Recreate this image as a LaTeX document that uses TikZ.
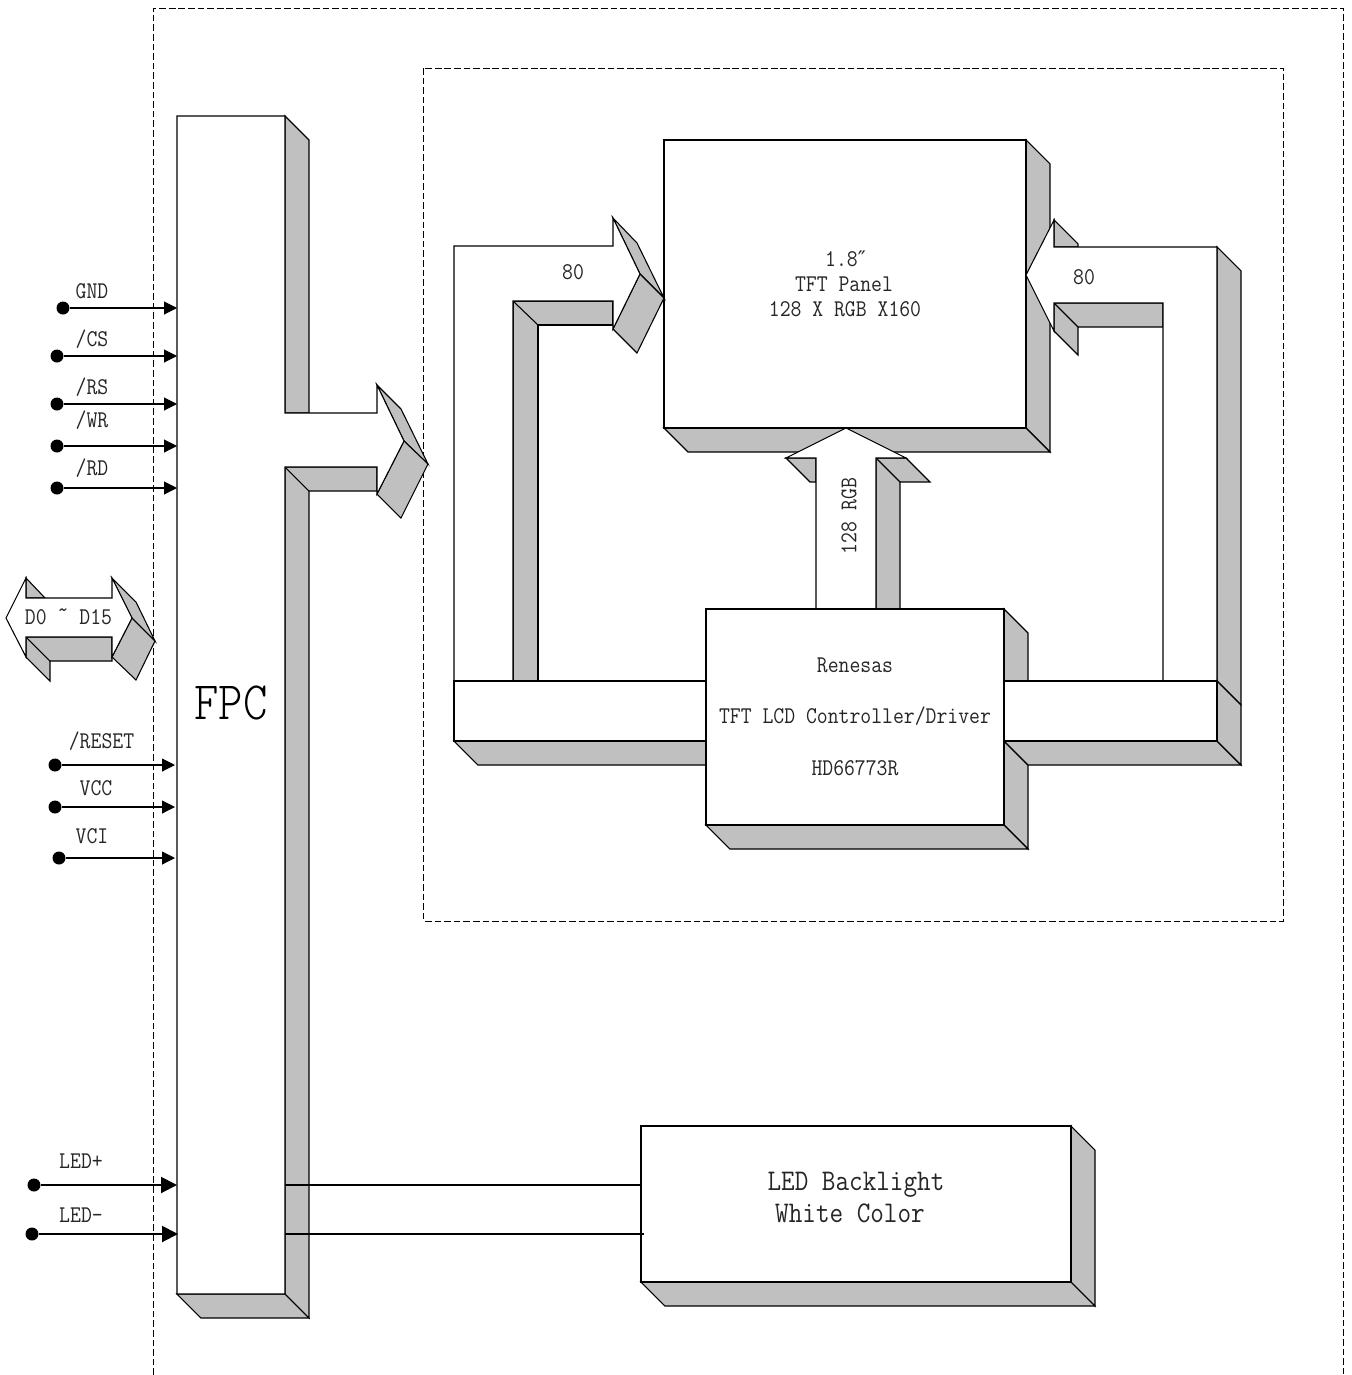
\documentclass[tikz,border=0pt]{standalone}
\usepackage{fontspec}
\usetikzlibrary{arrows.meta}
\newfontfamily\simf[FakeStretch=0.88]{Latin Modern Mono}
\newfontfamily\simbig[FakeStretch=0.86]{Latin Modern Mono Light}
\newfontfamily\primef{DejaVu Sans}
\definecolor{facegray}{HTML}{C0C0C0}
\tikzset{
  face/.style={draw=black,fill=facegray,line width=.8pt,line join=miter},
  front/.style={draw=black,fill=white,line width=.8pt,line join=miter},
  edge3d/.style={draw=black,line width=.8pt},
  bound/.style={draw=black,line width=.7pt,dash pattern=on 5pt off 2.2pt},
  lbl/.style={font=\simf\fontsize{18}{20}\selectfont,inner sep=0pt,text=black!85},
  lblbig/.style={font=\simf\fontsize{22.5}{25}\selectfont,inner sep=0pt,text=black!85},
  lblfpc/.style={font=\simbig\fontsize{40.5}{44}\selectfont,inner sep=0pt},
  pin/.style={circle,fill=black,draw=none,inner sep=0pt,minimum size=9.75pt},
  sig/.style={draw=black,line width=.8pt,-{Triangle[length=9.75pt,width=9.75pt]}},
  power/.style={draw=black,line width=1.5pt,-{Triangle[length=12pt,width=12pt]}},
  wire/.style={draw=black,line width=1.5pt}
}
\begin{document}
\begin{tikzpicture}[x=0.75pt,y=-0.75pt]
\useasboundingbox (0,0) rectangle (1352,1375);
% dashed boundaries
\draw[bound] (153.5,1375) -- (153.5,8) -- (1343.5,8) -- (1343.5,1375);
\draw[bound] (423.5,68) rectangle (1283.5,921);

% TFT panel
\path[face] (1026,140) -- (1050,164) -- (1050,452) -- (1026,428) -- cycle;
\path[face] (664,428) -- (1026,428) -- (1050,452) -- (688,452) -- cycle;
\path[front] (664,140) rectangle (1026,428);

% left 80 bus
\path[face] (513,301) -- (613,301) -- (613,325) -- (538,325) -- (538,681) -- (513,681) -- cycle;
\draw[edge3d] (513,301) -- (538,325);
\path[face] (613,218) -- (637,243) -- (664,298) -- (640,274) -- cycle;
\path[face] (640,274) -- (664,298) -- (637,353) -- (613,329) -- cycle;
\path[front] (454,681) -- (454,246) -- (613,246) -- (613,218) -- (640,274) -- (613,329) -- (613,301) -- (513,301) -- (513,681);

% right 80 bus
\path[face] (1217,247) -- (1241,271) -- (1241,705) -- (1217,681) -- cycle;
\path[face] (1054,220) -- (1078,244) -- (1078,247) -- (1054,247) -- cycle;
\path[face] (1054,303) -- (1163,303) -- (1163,327) -- (1078,327) -- (1078,355) -- (1054,331) -- cycle;
\draw[edge3d] (1054,303) -- (1078,327);
\path[front] (1217,681) -- (1217,247) -- (1054,247) -- (1054,220) -- (1026,275) -- (1054,331) -- (1054,303) -- (1163,303) -- (1163,681);

% centre 128 RGB bus
\path[face] (786,458) -- (816,458) -- (816,482) -- (810,482) -- cycle;
\path[face] (876,458) -- (906,458) -- (930,482) -- (900,482) -- (900,609) -- (876,609) -- cycle;
\draw[edge3d] (876,458) -- (900,482);
\path[front] (816,609) -- (816,458) -- (786,458) -- (846,428) -- (906,458) -- (876,458) -- (876,609);

% side blocks
\path[face] (454,741) -- (706,741) -- (706,765) -- (478,765) -- cycle;
\path[front] (454,681) rectangle (706,741);
\path[face] (1004,609) -- (1028,633) -- (1028,681) -- (1004,681) -- cycle;
\path[face] (1004,741) -- (1028,765) -- (1028,849) -- (1004,825) -- cycle;
\path[face] (1004,741) -- (1217,741) -- (1241,765) -- (1028,765) -- cycle;
\path[face] (1217,681) -- (1241,705) -- (1241,765) -- (1217,741) -- cycle;
\path[front] (1004,681) rectangle (1217,741);

% driver
\path[face] (706,825) -- (1004,825) -- (1028,849) -- (730,849) -- cycle;
\path[front] (706,609) rectangle (1004,825);

% FPC with its output arrow
\path[face] (285,116) -- (309,140) -- (309,413) -- (285,413) -- cycle;
\path[face] (285,467) -- (377,467) -- (377,491) -- (309,491) -- (309,1318) -- (285,1294) -- cycle;
\draw[edge3d] (285,467) -- (309,491);
\path[face] (377,385) -- (401,409) -- (428,464) -- (404,441) -- cycle;
\path[face] (404,441) -- (428,464) -- (401,518) -- (377,494) -- cycle;
\path[face] (177,1294) -- (285,1294) -- (309,1318) -- (201,1318) -- cycle;
\path[front] (177,116) -- (285,116) -- (285,413) -- (377,413) -- (377,385) -- (404,441) -- (377,494) -- (377,467) -- (285,467) -- (285,1294) -- (177,1294) -- cycle;
\node[lblfpc] (fpc) at (231,703) {FPC};
\coordinate (fpcL) at (177,0);
\coordinate (fpcLb) at (175,0);
\coordinate (fpcLc) at (178,0);
\coordinate (fpcR) at (285,0);

% D0~D15 double arrow
\path[face] (26,578) -- (45,598) -- (26,598) -- cycle;
\path[face] (26,637) -- (112,637) -- (112,661) -- (50,661) -- (50,681) -- (26,657) -- cycle;
\draw[edge3d] (26,637) -- (50,661);
\path[face] (112,578) -- (136,602) -- (155,641) -- (132,618) -- cycle;
\path[face] (132,618) -- (155,641) -- (136,680) -- (112,657) -- cycle;
\path[front] (6,618) -- (26,578) -- (26,598) -- (112,598) -- (112,578) -- (132,618) -- (112,657) -- (112,637) -- (26,637) -- (26,657) -- cycle;
\node[lbl] (dbus) at (68.5,617) {D0 \raisebox{5pt}{\char`\~} D15};

% pins
\node[pin] (gnd) at (63,308) {};
\node[pin] (cs) at (57,356) {};
\node[pin] (rs) at (57,404) {};
\node[pin] (wr) at (57,446) {};
\node[pin] (rd) at (57,488) {};
\node[pin] (reset) at (55,765) {};
\node[pin] (vcc) at (55,807) {};
\node[pin] (vci) at (59,858) {};
\node[pin] (ledp) at (34,1185) {};
\node[pin] (ledn) at (32,1234) {};
\draw[sig] (gnd) -- (gnd -| fpcL);
\draw[sig] (cs) -- (cs -| fpcL);
\draw[sig] (rs) -- (rs -| fpcL);
\draw[sig] (wr) -- (wr -| fpcL);
\draw[sig] (rd) -- (rd -| fpcL);
\draw[sig] (reset) -- (reset -| fpcLb);
\draw[sig] (vcc) -- (vcc -| fpcLb);
\draw[sig] (vci) -- (vci -| fpcLb);
\draw[power] (ledp) -- (ledp -| fpcL);
\draw[power] (ledn) -- (ledn -| fpcLc);

\node[lbl] (tgnd) at (92,291) {GND};
\node[lbl] (tcs) at (92,339) {/CS};
\node[lbl] (trs) at (92,387) {/RS};
\node[lbl] (twr) at (92,420) {/WR};
\node[lbl] (trd) at (92,468) {/RD};
\node[lbl] (treset) at (101.5,741) {/RESET};
\node[lbl] (tvcc) at (96,788) {VCC};
\node[lbl] (tvci) at (92,836) {VCI};
\node[lbl] (tledp) at (81,1161) {LED+};
\node[lbl] (tledn) at (81,1215) {LED-};

% LED backlight
\path[face] (1071,1126) -- (1095,1150) -- (1095,1306) -- (1071,1282) -- cycle;
\path[face] (641,1282) -- (1071,1282) -- (1095,1306) -- (665,1306) -- cycle;
\node[draw=black,fill=white,line width=.8pt,inner sep=0pt,minimum width=322.5pt,minimum height=117pt] (led) at (856,1204) {};
\coordinate (ledinn) at (644,1234);
\draw[wire] (fpcR |- ledp) -- (led.west |- ledp);
\draw[wire] (fpcR |- ledn) -- (ledinn);
\node[lblbig] (tled1) at (856,1185) {LED Backlight};
\node[lblbig] (tled2) at (850,1213) {White Color};

% texts
\node[lbl] (tp1) at (845.5,259) {1.8{\primef\fontsize{16}{16}\selectfont″}};
\node[lbl] (tp2) at (844,284) {TFT Panel};
\node[lbl] (tp3) at (845,309) {128 X RGB X160};
\node[lbl] (t80l) at (573,272) {80};
\node[lbl] (t80r) at (1084,277) {80};
\node[lbl,rotate=90] (trgb) at (849,516) {128 RGB};
\node[lbl] (td1) at (855,665) {Renesas};
\node[lbl] (td2) at (855,716) {TFT LCD Controller/Driver};
\node[lbl] (td3) at (855,768) {HD66773R};
\end{tikzpicture}
\end{document}
